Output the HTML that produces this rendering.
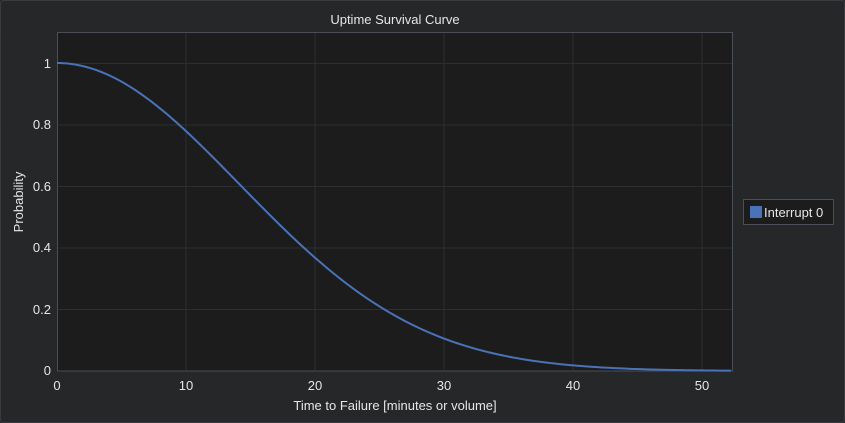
<!DOCTYPE html>
<html><head><meta charset="utf-8"><style>
html,body{margin:0;padding:0;background:#262729;}
svg{display:block;font-family:"Liberation Sans",sans-serif;}
</style></head><body>
<svg width="845" height="423" viewBox="0 0 845 423">
<rect x="0.5" y="0.5" width="844" height="422" rx="3" fill="#262729" stroke="#3a3b3f"/>
<text x="395" y="24" fill="#e6e6e6" font-size="13" text-anchor="middle">Uptime Survival Curve</text>
<rect x="57.5" y="32.5" width="675" height="338.5" fill="#1c1c1c" stroke="#4c4e57"/>
<g stroke="#2d2e31" stroke-width="1">
<line x1="186" y1="33" x2="186" y2="371"/><line x1="315" y1="33" x2="315" y2="371"/>
<line x1="444" y1="33" x2="444" y2="371"/><line x1="573" y1="33" x2="573" y2="371"/>
<line x1="702" y1="33" x2="702" y2="371"/>
<line x1="58" y1="63.5" x2="732" y2="63.5"/><line x1="58" y1="125" x2="732" y2="125"/>
<line x1="58" y1="186.5" x2="732" y2="186.5"/><line x1="58" y1="248" x2="732" y2="248"/>
<line x1="58" y1="309.5" x2="732" y2="309.5"/>
</g>
<g fill="#e6e6e6" font-size="13" text-anchor="end">
<text x="51" y="68">1</text><text x="51" y="129">0.8</text><text x="51" y="191">0.6</text>
<text x="51" y="252">0.4</text><text x="51" y="314">0.2</text><text x="51" y="375">0</text>
</g>
<g fill="#e6e6e6" font-size="13" text-anchor="middle">
<text x="57" y="390">0</text><text x="186" y="390">10</text><text x="315" y="390">20</text>
<text x="444" y="390">30</text><text x="573" y="390">40</text><text x="702" y="390">50</text>
</g>
<text x="395" y="410" fill="#e6e6e6" font-size="13" text-anchor="middle">Time to Failure [minutes or volume]</text>
<text transform="translate(23,202) rotate(-90)" fill="#e6e6e6" font-size="13" text-anchor="middle">Probability</text>
<polyline id="c" fill="none" stroke="#4a72b8" stroke-width="2" points="57,63 82.8,66 108.6,75 134.4,89.5 160.2,108.5 186,131.1 211.8,156.1 237.6,182.3 263.4,208.6 289.2,234 315,257.7 340.8,279.2 366.6,298 392.4,314.2 418.2,327.6 444,338.5 469.8,347.2 495.6,353.9 521.4,358.9 547.2,362.7 573,365.4 598.8,367.3 624.6,368.6 650.4,369.5 676.2,370 702,370.5 733,371"/>
<rect x="743.5" y="199.5" width="90" height="25" fill="#1c1c1c" stroke="#4c4e57"/>
<rect x="750" y="206" width="12" height="12" fill="#4a72b8"/>
<text x="764" y="217" fill="#e6e6e6" font-size="13">Interrupt 0</text>
</svg>
<script>
var p=[];for(var t=0;t<=52.4;t+=0.25){p.push((57+12.9*t).toFixed(2)+","+(371-308*Math.exp(-(t/20)*(t/20))).toFixed(2));}
document.getElementById("c").setAttribute("points",p.join(" "));
</script>
</body></html>
